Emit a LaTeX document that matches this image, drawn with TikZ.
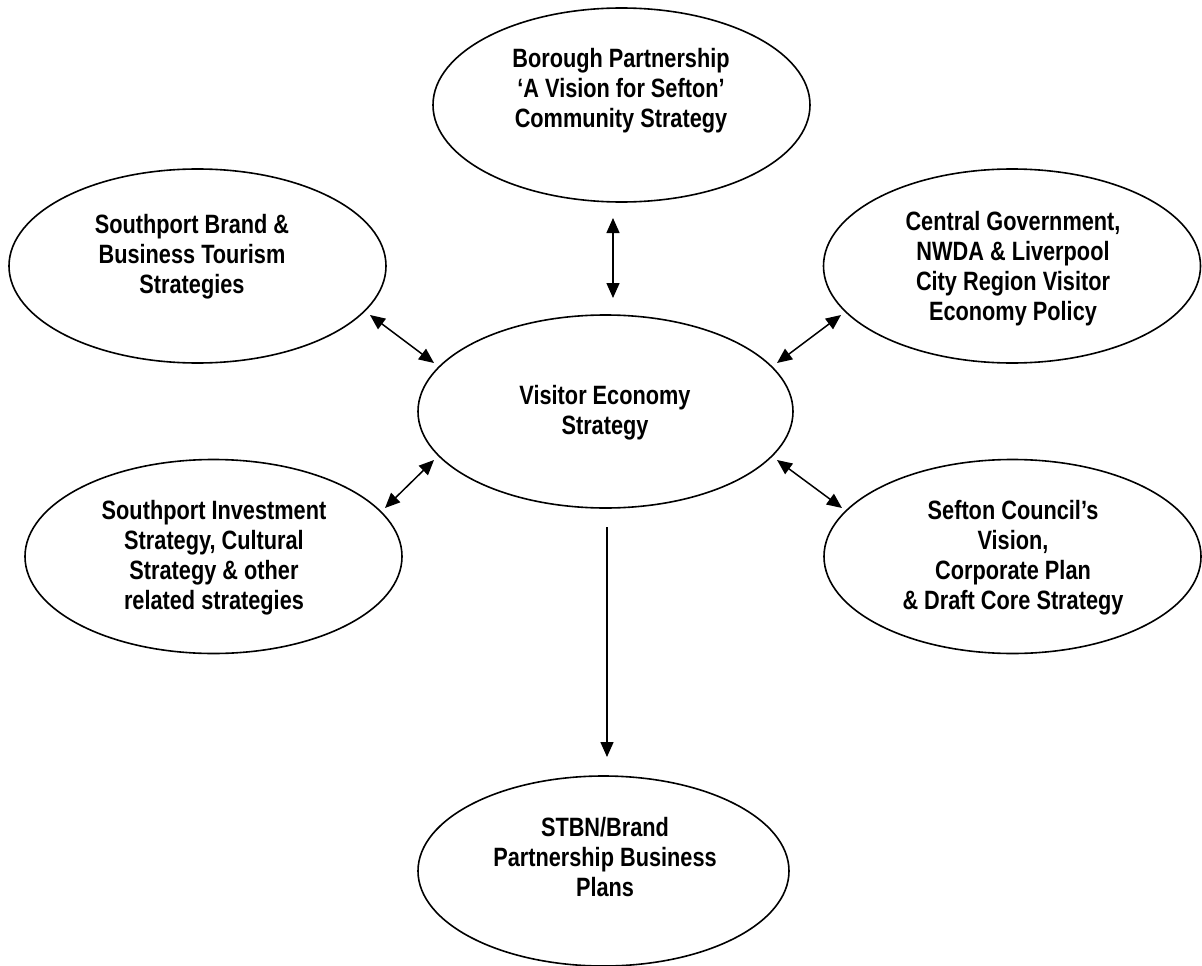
\documentclass[tikz,border=0pt]{standalone}
\usepackage{fontspec}
\setmainfont{Liberation Sans}[FakeStretch=0.82]
\usetikzlibrary{shapes.geometric,arrows.meta}
\tikzset{
  oval/.style={draw, ellipse, line width=1.6pt, inner sep=0pt, minimum width=377pt, minimum height=194pt},
  lbl/.style={align=center, inner sep=0pt, font=\fontsize{26.5}{30}\selectfont\bfseries},
  link/.style={line width=1.5pt, {Triangle[length=15pt,width=13pt]}-{Triangle[length=15pt,width=13pt]}},
  flow/.style={line width=1.5pt, -{Triangle[length=15pt,width=13pt]}}
}
\begin{document}
\begin{tikzpicture}[x=1pt,y=-1pt]
\useasboundingbox (0,0) rectangle (1202,966);
% ellipses
\node[oval] (bor) at (621.5,105) {};
\node[oval] (sb) at (197.5,266) {};
\node[oval] (cg) at (1012,266) {};
\node[oval, minimum width=375pt, minimum height=193pt] (ve) at (605.5,411.5) {};
\node[oval] (si) at (213.5,556.5) {};
\node[oval] (sc) at (1012.5,556.5) {};
\node[oval, minimum width=371pt, minimum height=190pt] (st) at (603.5,871) {};
% texts
\node[lbl] (bort) at (621,91) {Borough Partnership\\‘A Vision for Sefton’\\Community Strategy};
\node[lbl] (sbt) at (192,257) {Southport Brand \&\\Business Tourism\\Strategies};
\node[lbl] (cgt) at (1013,269) {Central Government,\\NWDA \& Liverpool\\City Region Visitor\\Economy Policy};
\node[lbl] (vet) at (605,413) {Visitor Economy\\Strategy};
\node[lbl] (sit) at (214,558) {Southport Investment\\Strategy, Cultural\\Strategy \& other\\related strategies};
\node[lbl] (sct) at (1013,558) {Sefton Council’s\\Vision,\\Corporate Plan\\\& Draft Core Strategy};
\node[lbl] (stt) at (605,857) {STBN/Brand\\Partnership Business\\Plans};
% connector end points
\coordinate (a1) at (613,218);
\coordinate (a2) at (613,298);
\coordinate (b1) at (370,315);
\coordinate (b2) at (434,363);
\coordinate (c1) at (841,315);
\coordinate (c2) at (777,363);
\coordinate (d1) at (434,460);
\coordinate (d2) at (385,508);
\coordinate (e1) at (777,460);
\coordinate (e2) at (842,508);
\coordinate (f1) at (607,527);
\coordinate (f2) at (607,757);
% connectors
\draw[link] (a1) -- (a2);
\draw[link] (b1) -- (b2);
\draw[link] (c1) -- (c2);
\draw[link] (d1) -- (d2);
\draw[link] (e1) -- (e2);
\draw[flow] (f1) -- (f2);
\end{tikzpicture}
\end{document}
